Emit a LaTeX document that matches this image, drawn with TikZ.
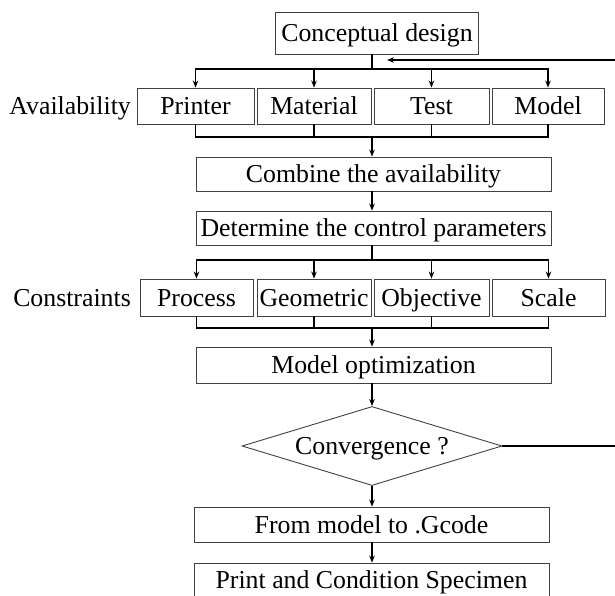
\documentclass[tikz,border=0pt]{standalone}
\usepackage{fontspec}
\setmainfont{Liberation Serif}
\usetikzlibrary{arrows.meta,shapes.geometric}
\begin{document}
\begin{tikzpicture}[x=1pt,y=-1pt,
  txt/.style={font=\fontsize{25.8}{30}\selectfont, inner sep=0pt, text height=19pt, text depth=2pt},
  box/.style={txt, draw=black!75, line width=0.9pt, rectangle, minimum height=#1},
  box/.default=35pt,
  conn/.style={line width=1.5pt, line cap=rect},
  arr/.style={line width=1.5pt, -{Stealth[length=7pt,width=5.5pt]}},
  lbl/.style={txt, anchor=east}]
\useasboundingbox (0,0) rectangle (615,595);
\coordinate (col) at (372,0);
% top
\node[box=42pt, minimum width=203pt] (cd) at (377,33) {Conceptual design};
% availability row
\node[box=36pt, minimum width=117pt] (pr) at (195.5,106) {Printer};
\node[box=36pt, minimum width=114pt] (ma) at (314,106) {Material};
\node[box=36pt, minimum width=115pt] (te) at (431.5,106) {Test};
\node[box=36pt, minimum width=112pt] (mo) at (548,106) {Model};
\node[lbl] (av) at (131,106) {Availability};
\node[box=34pt, minimum width=355pt] (cb) at (373.5,174) {Combine the availability};
\node[box=34pt, minimum width=355pt] (dt) at (373.5,228) {Determine the control parameters};
% constraints row
\node[box=37pt, minimum width=113pt] (pc) at (196.5,297.5) {Process};
\node[box=37pt, minimum width=114pt] (ge) at (314,297.5) {Geometric};
\node[box=37pt, minimum width=115pt] (ob) at (431.5,297.5) {Objective};
\node[box=37pt, minimum width=113pt] (sc) at (548.5,297.5) {Scale};
\node[lbl] (cs) at (131,297.5) {Constraints};
\node[box=36pt, minimum width=355pt] (op) at (373.5,365) {Model optimization};
\node[txt, draw=black!75, line width=0.9pt, shape=diamond, aspect=3.3,
      minimum width=260pt, minimum height=79pt] (dia) at (372,446) {Convergence ?};
\node[box=35pt, minimum width=355pt] (gc) at (371.5,524.5) {From model to .Gcode};
\node[box=34pt, minimum width=355pt] (pt) at (371.5,580) {Print and Condition Specimen};
% bus coordinates
\coordinate (b1) at (372,69);
\coordinate (b2) at (372,137);
\coordinate (b3) at (372,260);
\coordinate (b4) at (372,328);
\coordinate (fb) at (387,60);
\coordinate (fr1) at (620,446);
\coordinate (fr2) at (620,60);
% top fan-out
\draw[conn] (cd.south -| col) -- (b1);
\draw[conn] (pr.north |- b1) -- (mo.north |- b1);
\foreach \n in {pr,ma,te,mo} \draw[arr] (\n.north |- b1) -- (\n.north);
% fan-in
\foreach \n in {pr,ma,te,mo} \draw[conn] (\n.south) -- (\n.south |- b2);
\draw[conn] (pr.south |- b2) -- (mo.south |- b2);
\draw[arr] (b2) -- (cb.north -| col);
\draw[arr] (cb.south -| col) -- (dt.north -| col);
% constraints fan-out
\draw[conn] (dt.south -| col) -- (b3);
\draw[conn] (pc.north |- b3) -- (sc.north |- b3);
\foreach \n in {pc,ge,ob,sc} \draw[arr] (\n.north |- b3) -- (\n.north);
% constraints fan-in
\foreach \n in {pc,ge,ob,sc} \draw[conn] (\n.south) -- (\n.south |- b4);
\draw[conn] (pc.south |- b4) -- (sc.south |- b4);
\draw[arr] (b4) -- (op.north -| col);
\draw[arr] (op.south -| col) -- (dia.north);
\draw[arr] (dia.south) -- (gc.north -| col);
\draw[arr] (gc.south -| col) -- (pt.north -| col);
% feedback loop
\draw[arr] (dia.east) -- (fr1) -- (fr2) -- (fb);
\end{tikzpicture}
\end{document}
